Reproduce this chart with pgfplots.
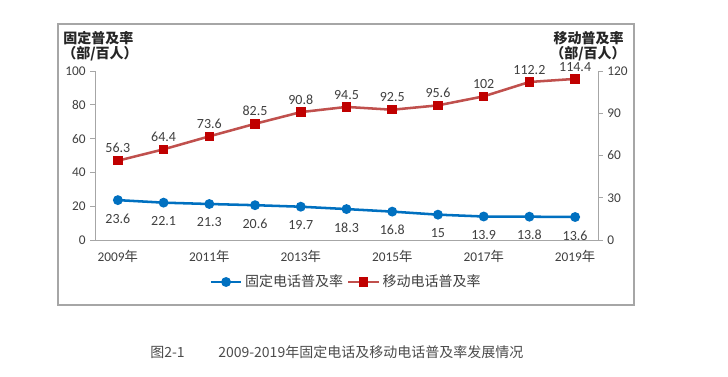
\documentclass[border=0pt]{standalone}
\usepackage{pgfplots}
\pgfplotsset{compat=1.18}
\usepackage{fontspec}
\setmainfont{Carlito}
\newfontfamily\cjk{Noto Sans CJK SC}
\definecolor{fixblue}{HTML}{0070C0}
\definecolor{mobline}{HTML}{C0504D}
\definecolor{mobmark}{HTML}{C00000}
\definecolor{txt}{HTML}{404040}
\definecolor{axgray}{HTML}{A6A6A6}
\newcommand\PX[2]{({#1*0.75pt},{(376-#2)*0.75pt})}
\begin{document}
\begin{tikzpicture}
\path[use as bounding box] (0,0) rectangle (546pt,282pt);
\fill[white] (0,0) rectangle (546pt,282pt);
\draw[axgray, line width=0.9pt] \PX{58}{24} rectangle \PX{634}{305};
\begin{axis}[
  at={(71.25pt,102pt)}, anchor=south west,
  scale only axis, width=377.25pt, height=126.75pt,
  xmin=2008.5, xmax=2019.5, ymin=0, ymax=100,
  axis x line*=bottom, axis y line*=left,
  axis line style={axgray, line width=0.7pt},
  xtick={2009,2011,2013,2015,2017,2019},
  xticklabels={2009{\cjk 年},2011{\cjk 年},2013{\cjk 年},2015{\cjk 年},2017{\cjk 年},2019{\cjk 年}},
  x tick style={draw=none},
  extra x ticks={2011.5,2014.5,2017.5},
  extra x tick labels={},
  extra x tick style={tick align=inside, major tick length=3.5pt, tick style={draw=axgray, line width=0.6pt}},
  ytick={0,20,...,100},
  y tick style={axgray, line width=0.6pt},
  tick align=outside, major tick length=3.5pt,
  ticklabel style={font=\fontsize{10}{12}\selectfont, text=txt},
  /pgf/number format/assume math mode=true,
  xticklabel style={yshift=-1pt},
  clip=false,
]
\addplot[fixblue, line width=1.9pt, mark=*, mark size=2.7pt,
  nodes near coords, point meta=explicit symbolic,
  every node near coord/.style={below, yshift=-6pt, font=\fontsize{10.5}{12}\selectfont, text=txt}]
  table[meta=l] {
x y l
2009 23.6 23.6
2010 22.1 22.1
2011 21.3 21.3
2012 20.6 20.6
2013 19.7 19.7
2014 18.3 18.3
2015 16.8 16.8
2016 15 15
2017 13.9 13.9
2018 13.8 13.8
2019 13.6 13.6
};
\end{axis}
\begin{axis}[
  at={(71.25pt,102pt)}, anchor=south west,
  scale only axis, width=377.25pt, height=126.75pt,
  xmin=2008.5, xmax=2019.5, ymin=0, ymax=120,
  axis x line=none, axis y line*=right,
  axis line style={axgray, line width=0.7pt},
  ytick={0,30,...,120},
  y tick style={axgray, line width=0.6pt},
  tick align=outside, major tick length=3.5pt,
  ticklabel style={font=\fontsize{10}{12}\selectfont, text=txt},
  /pgf/number format/assume math mode=true,
  clip=false,
  legend columns=2,
  legend style={at={(0.5,-0.2485)}, anchor=center, draw=none, fill=none,
    font=\cjk\fontsize{10.5}{12}\selectfont, text=txt,
    /tikz/every even column/.append style={column sep=1pt}},
  legend image code/.code={\draw[mark repeat=2,mark phase=2] plot coordinates {(0cm,0cm) (0.4cm,0cm) (0.8cm,0cm)};},
  legend cell align=left,
]
\addlegendimage{fixblue, line width=1.9pt, mark=*, mark size=2.7pt}
\addlegendentry{固定电话普及率}
\addplot[mobline, line width=1.9pt, mark=square*, mark size=2.6pt,
  mark options={fill=mobmark, draw=mobmark},
  nodes near coords, point meta=explicit symbolic,
  every node near coord/.style={above, yshift=1.5pt, font=\fontsize{10.5}{12}\selectfont, text=txt}]
  table[meta=l] {
x y l
2009 56.3 56.3
2010 64.4 64.4
2011 73.6 73.6
2012 82.5 82.5
2013 90.8 90.8
2014 94.5 94.5
2015 92.5 92.5
2016 95.6 95.6
2017 102 102
2018 112.2 112.2
2019 114.4 114.4
};
\addlegendentry{移动电话普及率}
\end{axis}
\node[anchor=west, inner sep=0pt, font=\cjk\bfseries\fontsize{10.5}{12}\selectfont, text=black!85] at \PX{63}{38} {固定普及率};
\node[anchor=west, inner sep=0pt, font=\cjk\bfseries\fontsize{10.5}{12}\selectfont, text=black!85] at \PX{62}{54} {（部/百人）};
\node[anchor=east, inner sep=0pt, font=\cjk\bfseries\fontsize{10.5}{12}\selectfont, text=black!85] at \PX{624}{38} {移动普及率};
\node[anchor=east, inner sep=0pt, font=\cjk\bfseries\fontsize{10.5}{12}\selectfont, text=black!85] at \PX{626}{54} {（部/百人）};
\node[anchor=west, inner sep=0pt, font=\cjk\fontsize{10.5}{12}\selectfont, text=black!70] at \PX{150}{352} {图2-1};
\node[anchor=west, inner sep=0pt, font=\cjk\fontsize{10.5}{12}\selectfont, text=black!70] at \PX{218}{352} {2009-2019年固定电话及移动电话普及率发展情况};
\end{tikzpicture}
\end{document}
